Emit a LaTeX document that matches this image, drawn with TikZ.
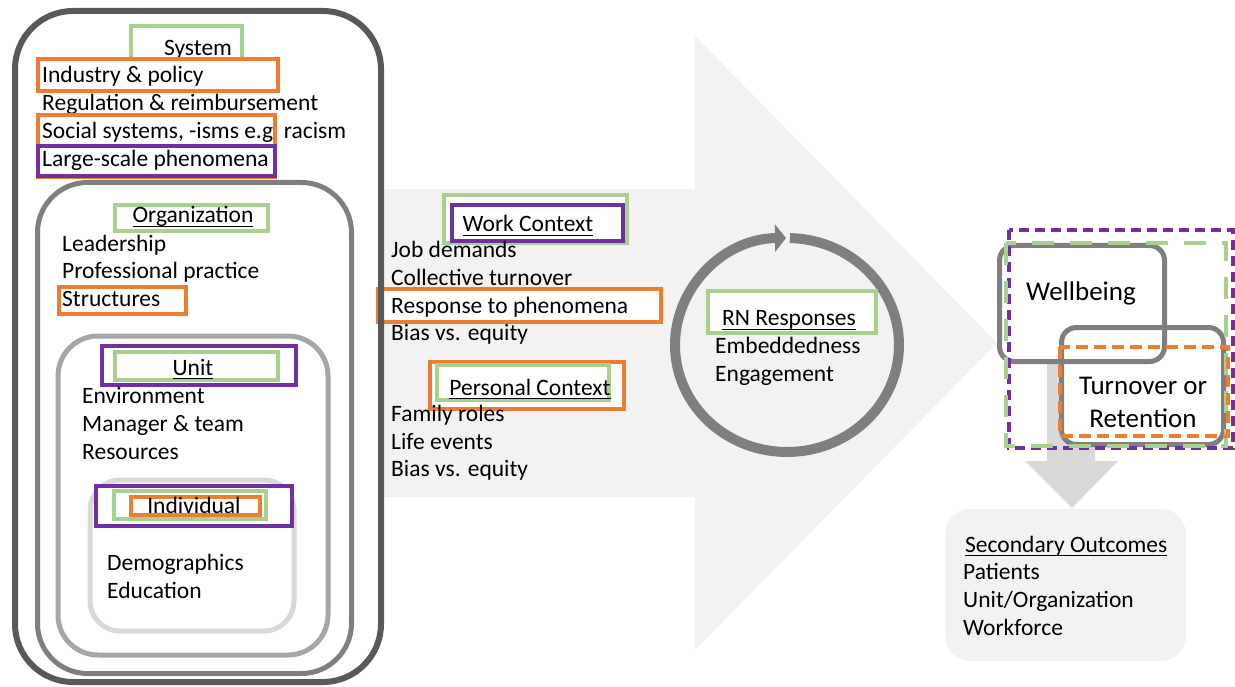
\documentclass[tikz,border=0pt]{standalone}
\usepackage{fontspec}
\setmainfont{Carlito}
\usetikzlibrary{arrows.meta}
\definecolor{cgreen}{HTML}{A9D18E}
\definecolor{corange}{HTML}{ED7D31}
\definecolor{cpurple}{HTML}{7030A0}
\definecolor{gA}{HTML}{595959}
\definecolor{gB}{HTML}{7F7F7F}
\definecolor{gC}{HTML}{A6A6A6}
\definecolor{gD}{HTML}{D9D9D9}
\definecolor{bgf}{HTML}{F2F2F2}
\newsavebox\ulbox
\newcommand{\myul}[1]{\sbox\ulbox{#1}\rlap{\rule[-4pt]{\wd\ulbox}{1.4pt}}\usebox\ulbox}
\begin{document}
\begin{tikzpicture}[x=1pt,y=-1pt,
  txt/.style={anchor=base west, inner sep=0pt, font=\fontsize{23.5}{28}\selectfont},
  ctxt/.style={anchor=base, inner sep=0pt, font=\fontsize{23.5}{28}\selectfont},
  btxt/.style={anchor=base, inner sep=0pt, font=\fontsize{27}{33}\selectfont},
  gbox/.style={draw=cgreen, line width=4.5pt, fill=white},
  obox/.style={draw=corange, line width=4.5pt, fill=white},
  pbox/.style={draw=cpurple, line width=4.5pt, fill=white},
  level/.style={line width=5pt, rounded corners=#1}]
\useasboundingbox (0,0) rectangle (1235,687);

% big arrow
\fill[bgf] (383,189) -- (695,189) -- (695,36) -- (997,343) -- (695,650) -- (695,497) -- (383,497) -- cycle;

% middle box that touches the system frame
\draw[obox] (378,289) rectangle (661,322);

% nested levels
\draw[gA, line width=6pt, rounded corners=58pt] (15,11) rectangle (381,682);
\draw[gB, level=50pt] (37.5,182.5) rectangle (351.5,673.5);
\draw[gC, level=40pt] (58,336) rectangle (328,655);
\draw[gD, level=30pt] (90,480) rectangle (294,631);

% System
\draw[gbox] (131,26) rectangle (242,60);
\node[ctxt] (sys) at (198,56) {System};
\draw[obox] (38,59) rectangle (278,91);
\node[txt] (ind) at (42,83) {Industry \& policy};
\node[txt] (reg) at (42,111) {Regulation \& reimbursement};
\draw[obox] (38,115) rectangle (275,177);
\node[txt] (soc) at (42,139) {Social systems, -isms e.g\ \ racism};
\draw[pbox] (38,146) rectangle (275,176);
\node[txt] (lsp) at (42,167) {Large-scale phenomena};

% Organization
\draw[gbox] (115,205) rectangle (268,231);
\node[ctxt] (org) at (193,223) {\myul{Organization}};
\node[txt] (lead) at (62,252) {Leadership};
\node[txt] (prof) at (62,279) {Professional practice};
\draw[obox] (59,287) rectangle (186,314);
\node[txt] (struc) at (62,307) {Structures};

% Unit
\draw[pbox] (102,346) rectangle (296,385);
\draw[gbox] (115,352) rectangle (278,380);
\node[ctxt] (unit) at (193,375) {\myul{Unit}};
\node[txt] (env) at (82,403) {Environment};
\node[txt] (mgr) at (82,431) {Manager \& team};
\node[txt] (res) at (82,459) {Resources};

% Individual
\draw[pbox] (96,486) rectangle (292,526);
\draw[gbox] (114,491) rectangle (266,519);
\draw[obox] (131,497) rectangle (260,515);
\node[ctxt] (indiv) at (194,513) {Individual};
\node[txt] (demo) at (107,570) {Demographics};
\node[txt] (edu) at (107,598) {Education};

% Work context
\draw[gbox] (444,195) rectangle (627,243);
\draw[pbox] (452,205) rectangle (623,241);
\node[ctxt] (work) at (528,232) {\myul{Work Context}};
\node[txt] (job) at (391,258) {Job demands};
\node[txt] (coll) at (391,286) {Collective turnover};
\node[txt] (resp) at (391,313) {Response to phenomena};
\node[txt] (bias1) at (391,341) {Bias vs. equity};

% Personal context
\draw[obox] (430,362) rectangle (624,409);
\draw[gbox] (437,365) rectangle (609,400);
\node[ctxt] (pers) at (530,395) {\myul{Personal Context}};
\node[txt] (fam) at (391,421) {Family roles};
\node[txt] (life) at (391,449) {Life events};
\node[txt] (bias2) at (391,476) {Bias vs. equity};

% RN responses cycle
\draw[gB, line width=10pt, -{Triangle[length=11pt, width=27pt]}]
  (787,345) ++(-88.5:112 and 107) arc[start angle=-88.5, end angle=269.5, x radius=112, y radius=107];
\draw[gbox] (708,291) rectangle (876,333);
\node[ctxt] (rn) at (789,326) {\myul{RN Responses}};
\node[txt] (emb) at (715,353) {Embeddedness};
\node[txt] (eng) at (715,381) {Engagement};

% outcomes
\fill[gD] (1047,340) -- (1095,340) -- (1095,461) -- (1118,461) -- (1072,508) -- (1025,461) -- (1047,461) -- cycle;
\fill[white, rounded corners=15pt] (999.5,245.5) rectangle (1164.5,361.5);
\fill[white, rounded corners=15pt] (1061.5,327.5) rectangle (1223.5,444.5);
\draw[gB, line width=5pt, rounded corners=15pt] (999.5,245.5) rectangle (1164.5,361.5);
\draw[gB, line width=5pt, rounded corners=15pt] (1061.5,327.5) rectangle (1223.5,444.5);
\draw[cpurple, line width=4.5pt, dash pattern=on 10pt off 6pt] (1009,230) rectangle (1233,448);
\draw[cgreen, line width=4.5pt, dash pattern=on 22pt off 16pt] (1006,243) rectangle (1226,446);
\draw[corange, line width=4.5pt, dash pattern=on 12pt off 6pt] (1060,347) rectangle (1228,436);
\node[anchor=base west, inner sep=0pt, font=\fontsize{27}{33}\selectfont] (well) at (1026,301) {Wellbeing};
\node[btxt] (turn) at (1143,394) {Turnover or};
\node[btxt] (ret) at (1143,427) {Retention};

% secondary outcomes
\fill[bgf, rounded corners=25pt] (945,509) rectangle (1186,661);
\node[txt] (sec) at (965,552) {\myul{Secondary Outcomes}};
\node[txt] (pat) at (963,579) {Patients};
\node[txt] (uo) at (963,607) {Unit/Organization};
\node[txt] (wf) at (963,635) {Workforce};
\end{tikzpicture}
\end{document}
